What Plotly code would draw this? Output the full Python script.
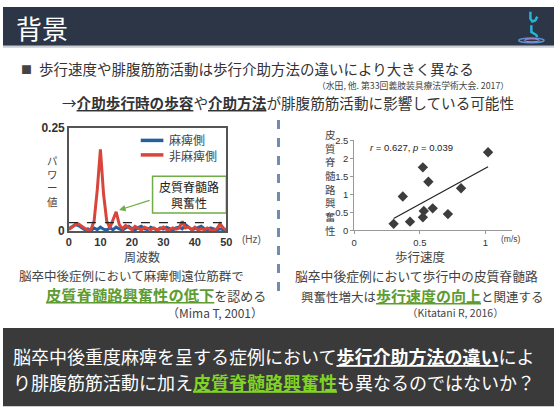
import numpy as np
import plotly.graph_objects as go

# ---------------- data ----------------
hz = list(range(0, 51))
paretic = [0.006, 0.012, 0.016, 0.014, 0.008, 0.004, 0.006, 0.002, 0.008, 0.004,
           0.010, 0.005, 0.003, 0.008, 0.004, 0.010, 0.006, 0.003, 0.008, 0.012,
           0.006, 0.003, 0.009, 0.012, 0.006, 0.004, 0.010, 0.006, 0.003, 0.008,
           0.005, 0.010, 0.006, 0.003, 0.008, 0.010, 0.006, 0.016, 0.010, 0.004,
           0.006, 0.010, 0.012, 0.006, 0.003, 0.008, 0.005, 0.003, 0.006, 0.004, 0.002]
nonparetic = [0.004, 0.010, 0.016, 0.018, 0.012, 0.006, 0.002, 0.004, 0.025, 0.100,
              0.198, 0.090, 0.025, 0.008, 0.030, 0.047, 0.016, 0.006, 0.014, 0.010,
              0.004, 0.012, 0.008, 0.003, 0.010, 0.006, 0.004, 0.008, 0.003, 0.006,
              0.010, 0.004, 0.003, 0.008, 0.005, 0.008, 0.024, 0.008, 0.010, 0.004,
              0.010, 0.003, 0.006, 0.004, 0.008, 0.003, 0.002, 0.006, 0.018, 0.008, 0.003]
threshold = 0.021
power_ticks = [0, 0.25]
power_ticktext = ["0", "0.25"]
hz_ticks = [0, 10, 20, 30, 40, 50]

speed = [0.30, 0.37, 0.425, 0.523, 0.53, 0.523, 0.565, 0.598, 0.714, 0.814, 1.02]
cse = [0.18, 0.94, 0.24, 1.75, 0.535, 0.36, 1.35, 0.61, 0.45, 1.17, 2.17]
speed_ticks = [0, 0.5, 1]
speed_ticktext = ["0", "0.5", "1"]
cse_ticks = [0, 0.5, 1, 1.5, 2, 2.5]
cse_ticktext = ["0", "0.5", "1", "1.5", "2", "2.5"]

BLUE = "#2460a0"
RED = "#d8453a"
GREEN = "#5e9c32"
LIME = "#80d424"
JP = "Noto Sans CJK JP"
LAT = "Liberation Sans, Arial"

W, H = 560, 420
def px(x): return x / W
def py(y): return 1 - y / H

fig = go.Figure()

# ---------- left chart ----------
fig.add_trace(go.Scatter(x=hz, y=paretic, mode="lines", line=dict(color=BLUE, width=3),
                         xaxis="x", yaxis="y", name="麻痺側"))
fig.add_trace(go.Scatter(x=hz, y=nonparetic, mode="lines", line=dict(color=RED, width=3),
                         xaxis="x", yaxis="y", name="非麻痺側"))
fig.add_trace(go.Scatter(x=[hz[0], hz[-1]], y=[threshold, threshold], mode="lines",
                         line=dict(color="#222", width=1.3, dash="dash"),
                         xaxis="x", yaxis="y"))

# ---------- right chart ----------
fig.add_trace(go.Scatter(x=speed, y=cse, mode="markers",
                         marker=dict(symbol="diamond", size=8, color="#3d3d3d"),
                         xaxis="x2", yaxis="y2"))
slope, icpt = np.polyfit(speed, cse, 1)
fx = np.array([min(speed), max(speed)])
fig.add_trace(go.Scatter(x=fx, y=slope * fx + icpt, mode="lines",
                         line=dict(color="#222", width=1.2), xaxis="x2", yaxis="y2"))

anns = []
shapes = []

def text(x, y, s, size, color="#333", xanchor="left", yanchor="middle", family=JP, align="center"):
    anns.append(dict(x=px(x), y=py(y), xref="paper", yref="paper", text=s,
                     showarrow=False, xanchor=xanchor, yanchor=yanchor, align=align,
                     font=dict(size=size, color=color, family=family)))

def rect(x0, y0, x1, y1, fill, line=None, lw=0):
    shapes.append(dict(type="rect", xref="paper", yref="paper",
                       x0=px(x0), x1=px(x1), y0=py(y0), y1=py(y1),
                       fillcolor=fill, line=dict(color=line or fill, width=lw), layer="below"))

def line(x0, y0, x1, y1, color, width, dash="solid"):
    shapes.append(dict(type="line", xref="paper", yref="paper",
                       x0=px(x0), x1=px(x1), y0=py(y0), y1=py(y1),
                       line=dict(color=color, width=width, dash=dash)))

# title bar
rect(0, 0, 560, 40, "#2c3646")
line(0, 41, 560, 41, "#c9ccd1", 2)
text(11, 21, "背景", 26, "white")

# logo (stylised figure)
def path(pts, color, width):
    d = "M " + " L ".join(f"{px(a):.5f},{py(b):.5f}" for a, b in pts)
    shapes.append(dict(type="path", xref="paper", yref="paper", path=d,
                       line=dict(color=color, width=width)))
path([(536, 5), (536, 12), (538, 15), (541, 14), (543, 10)], "#27b4d6", 2.5)
path([(537, 19), (537, 26), (542, 29), (543, 31)], "#27b4d6", 2.5)
shapes.append(dict(type="circle", xref="paper", yref="paper", x0=px(524), x1=px(550),
                   y0=py(37), y1=py(32), line=dict(color="#5a8fd8", width=1.5)))
shapes.append(dict(type="circle", xref="paper", yref="paper", x0=px(530), x1=px(545),
                   y0=py(36), y1=py(33), line=dict(color="#e07fb0", width=1)))

# header texts
text(16, 64, "■", 11, "#444")
text(35, 64, "歩行速度や腓腹筋筋活動は歩行介助方法の違いにより大きく異なる", 14.5, "#333")
text(516, 81.5, "（水田, 他. 第33回義肢装具療法学術大会. 2017）", 8.8, "#444", xanchor="right")
text(58, 99, "→<b><u>介助歩行時の歩容</u></b>や<b><u>介助方法</u></b>が腓腹筋筋活動に影響している可能性",
     14.6, "#333")

# divider
line(280, 117, 280, 303, "#6f8db0", 3, "dash")

# left chart decorations
text(50, 180, "<br>".join("パワー値"), 10.5, "#444", xanchor="center")
text(141, 258.5, "周波数", 12, "#444", xanchor="center")
text(253, 240, "(Hz)", 10, "#555", xanchor="center", family=LAT)
line(140, 138, 163, 138, BLUE, 3.5)
line(140, 153, 163, 153, RED, 3.5)
text(167, 145.5, "麻痺側<br>非麻痺側", 12, "#444", align="left")
rect(152, 175, 227, 213, "white", "#70ad47", 1.5)
text(189.5, 194, "皮質脊髄路<br>興奮性", 12, "#222", xanchor="center")
anns.append(dict(x=px(118), y=py(210), xref="paper", yref="paper", text="",
                 ax=32, ay=-10, axref="pixel", ayref="pixel",
                 showarrow=True, arrowhead=2, arrowsize=1, arrowwidth=1.3,
                 arrowcolor="#70ad47"))

text(14, 277.5, "脳卒中後症例において麻痺側遠位筋群で", 12.5, "#444")
text(42, 296.5, f'<span style="color:{GREEN};font-size:15.3px"><b><u>皮質脊髄路興奮性の低下</u></b></span>を認める',
     13, "#444")
text(266, 316, "（Mima T, 2001）", 12, "#444", xanchor="right")

# right chart decorations
text(333, 182, "<br>".join("皮質脊髄路興奮性"), 10.5, "#444", xanchor="center")
text(424, 258, "歩行速度", 12.5, "#444", xanchor="center")
text(516, 240, "(m/s)", 8.5, "#444", xanchor="center", family=LAT)
text(371, 145, f"<i>r</i> = {0.627}, <i>p</i> = {0.039}", 9.5, "#222", family=LAT)
text(295, 278, "脳卒中後症例において歩行中の皮質脊髄路", 12.8, "#444")
text(301, 298, f'興奮性増大は<span style="color:{GREEN};font-size:15px"><b><u>歩行速度の向上</u></b></span>と関連する',
     12.5, "#444")
text(511, 316, "（Kitatani R, 2016）", 10.5, "#444", xanchor="right")

# bottom box
rect(0, 332, 560, 413, "#3a3a3a")
text(8, 361, "脳卒中後重度麻痺を呈する症例において<b><u>歩行介助方法の違い</u></b>によ", 18, "white")
text(8, 388, f'り腓腹筋筋活動に加え<span style="color:{LIME}"><b><u>皮質脊髄路興奮性</u></b></span>も異なるのではないか？',
     18, "white")

fig.update_layout(
    width=W, height=H, margin=dict(l=0, r=0, t=0, b=0, pad=0),
    paper_bgcolor="white", plot_bgcolor="white", showlegend=False, hovermode=False,
    xaxis=dict(domain=[px(67), px(227)], range=[0, 50], tickvals=hz_ticks,
               showline=True, mirror=True, linecolor="#555", linewidth=1.5,
               showgrid=False, zeroline=False, ticks="",
               tickfont=dict(size=11, color="#333", family=LAT, weight="bold")),
    yaxis=dict(domain=[py(232), py(125)], range=[0, 0.25], tickvals=power_ticks,
               ticktext=power_ticktext, showline=True, mirror=True, linecolor="#555",
               linewidth=1.5, showgrid=False, zeroline=False, ticks="",
               tickfont=dict(size=12, color="#333", family=LAT, weight="bold")),
    xaxis2=dict(domain=[px(357), px(517)], range=[0, 1.2], tickvals=speed_ticks,
                ticktext=speed_ticktext, showline=True, linecolor="#999", linewidth=1,
                showgrid=False, zeroline=False, ticks="outside", ticklen=3, tickcolor="#999",
                anchor="y2", tickfont=dict(size=9.5, color="#333", family=LAT)),
    yaxis2=dict(domain=[py(231), py(138)], range=[0, 2.5], tickvals=cse_ticks,
                ticktext=cse_ticktext, showline=True, linecolor="#999", linewidth=1,
                showgrid=False, zeroline=False, ticks="outside", ticklen=3, tickcolor="#999",
                anchor="x2", tickfont=dict(size=9.5, color="#333", family=LAT)),
    annotations=anns, shapes=shapes,
)

fig.write_html("out.html", config={"displayModeBar": False},
               post_script="document.body.style.margin='0';document.body.style.padding='0';"
                           "document.body.style.overflow='hidden';")
